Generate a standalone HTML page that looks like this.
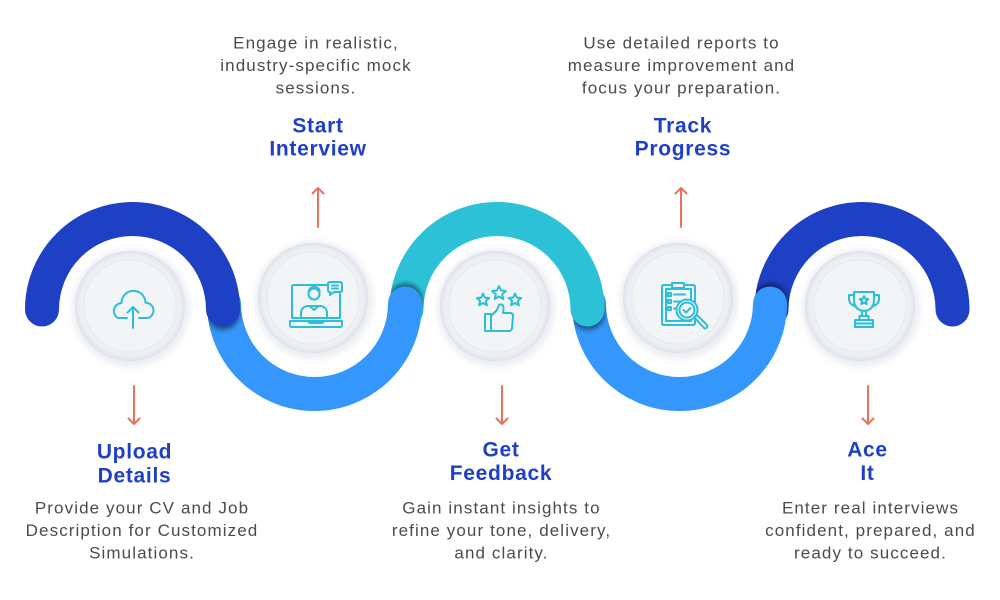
<!DOCTYPE html>
<html>
<head>
<meta charset="utf-8">
<style>
  html, body { margin: 0; padding: 0; background: #ffffff; }
  body { width: 1000px; height: 600px; overflow: hidden; }
  svg { display: block; }
  .b { font-family: "Liberation Sans", sans-serif; font-size: 17px; fill: #4b4b4b; letter-spacing: 1.1px; }
  .t { font-family: "Liberation Sans", sans-serif; font-size: 21px; font-weight: bold; fill: #1f3fc6; letter-spacing: 0.7px; }
  .ic { fill: none; stroke: #2bbfd7; stroke-width: 2; stroke-linejoin: round; stroke-linecap: round; }
  .ar { fill: none; stroke: #e8735c; stroke-width: 2; stroke-linecap: round; stroke-linejoin: round; }
</style>
</head>
<body>
<svg width="1000" height="600" viewBox="0 0 1000 600" xmlns="http://www.w3.org/2000/svg">
  <defs>
    <filter id="blur" x="-50%" y="-50%" width="200%" height="200%">
      <feGaussianBlur stdDeviation="2.5"/>
    </filter>
    <filter id="halo" x="-50%" y="-50%" width="200%" height="200%">
      <feGaussianBlur stdDeviation="3"/>
    </filter>
    <radialGradient id="ng" cx="50%" cy="50%" r="50%">
      <stop offset="0%" stop-color="#f3f4f6"/>
      <stop offset="82.5%" stop-color="#f3f4f6"/>
      <stop offset="84%" stop-color="#e9ecf1"/>
      <stop offset="88%" stop-color="#eff1f5"/>
      <stop offset="95%" stop-color="#e7eaf0"/>
      <stop offset="100%" stop-color="#dce0e8"/>
    </radialGradient>
    <mask id="mD2"><path d="M 771.5 309.5 A 90.5 90.5 0 0 1 952.5 309.5" stroke="#fff" stroke-width="34" fill="none" stroke-linecap="round"/></mask>
    <mask id="mL2"><path d="M 589 303.5 A 90.5 90.5 0 0 0 770 303.5" stroke="#fff" stroke-width="34" fill="none" stroke-linecap="round"/></mask>
    <mask id="mC"><path d="M 406.5 309.5 A 90.5 90.5 0 0 1 587.5 309.5" stroke="#fff" stroke-width="34" fill="none" stroke-linecap="round"/></mask>
    <mask id="mL1"><path d="M 224 303.5 A 90.5 90.5 0 0 0 405 303.5" stroke="#fff" stroke-width="34" fill="none" stroke-linecap="round"/></mask>
  </defs>

  <!-- Wave arcs (draw order: bottom-most first) -->
  <path d="M 771.5 309.5 A 90.5 90.5 0 0 1 952.5 309.5" stroke="#1e40c4" stroke-width="34" fill="none" stroke-linecap="round"/>
  <g mask="url(#mD2)"><circle cx="770" cy="300" r="17" fill="#000" opacity="0.45" filter="url(#blur)"/></g>

  <path d="M 589 303.5 A 90.5 90.5 0 0 0 770 303.5" stroke="#3597fb" stroke-width="34" fill="none" stroke-linecap="round"/>
  <g mask="url(#mL2)"><circle cx="588" cy="313" r="17" fill="#000" opacity="0.45" filter="url(#blur)"/></g>

  <path d="M 406.5 309.5 A 90.5 90.5 0 0 1 587.5 309.5" stroke="#2cc1d7" stroke-width="34" fill="none" stroke-linecap="round"/>
  <g mask="url(#mC)"><circle cx="405.5" cy="300" r="17" fill="#000" opacity="0.45" filter="url(#blur)"/></g>

  <path d="M 224 303.5 A 90.5 90.5 0 0 0 405 303.5" stroke="#3597fb" stroke-width="34" fill="none" stroke-linecap="round"/>
  <g mask="url(#mL1)"><circle cx="223" cy="313" r="17" fill="#000" opacity="0.45" filter="url(#blur)"/></g>

  <path d="M 42 309.5 A 90.5 90.5 0 0 1 223 309.5" stroke="#1e40c4" stroke-width="34" fill="none" stroke-linecap="round"/>

  <!-- Nodes -->
  <g>
    <circle cx="131" cy="308" r="59" fill="#eceef3" filter="url(#halo)"/>
    <circle cx="130" cy="306" r="55" fill="url(#ng)"/>
    <circle cx="130" cy="306" r="46" fill="none" stroke="#e6e9ee" stroke-width="0.8"/>

    <circle cx="314" cy="300" r="59" fill="#eceef3" filter="url(#halo)"/>
    <circle cx="313" cy="298" r="55" fill="url(#ng)"/>
    <circle cx="313" cy="298" r="46" fill="none" stroke="#e6e9ee" stroke-width="0.8"/>

    <circle cx="496" cy="308" r="59" fill="#eceef3" filter="url(#halo)"/>
    <circle cx="495" cy="306" r="55" fill="url(#ng)"/>
    <circle cx="495" cy="306" r="46" fill="none" stroke="#e6e9ee" stroke-width="0.8"/>

    <circle cx="679" cy="300" r="59" fill="#eceef3" filter="url(#halo)"/>
    <circle cx="678" cy="298" r="55" fill="url(#ng)"/>
    <circle cx="678" cy="298" r="46" fill="none" stroke="#e6e9ee" stroke-width="0.8"/>

    <circle cx="861" cy="308" r="59" fill="#eceef3" filter="url(#halo)"/>
    <circle cx="860" cy="306" r="55" fill="url(#ng)"/>
    <circle cx="860" cy="306" r="46" fill="none" stroke="#e6e9ee" stroke-width="0.8"/>
  </g>

  <!-- Icon 1: cloud upload -->
  <g class="ic" stroke-width="2.3">
    <path d="M 127 318 H 118 A 8 8 0 0 1 121.5 303 A 12 12 0 0 1 145.5 302.75 A 7.8 7.8 0 0 1 148 318 H 139"/>
    <path d="M 133 328 V 307"/>
    <path d="M 127.5 312.5 L 133 307 L 138.5 312.5"/>
  </g>

  <!-- Icon 2: laptop with person -->
  <g class="ic" stroke-width="1.7">
    <path d="M 328 285 H 294 Q 292 285 292 287 V 318 H 340 V 294"/>
    <path d="M 290 321 H 342 V 325 Q 342 327 340 327 H 292 Q 290 327 290 325 Z"/>
    <path d="M 308 321 Q 309 323 311 323 H 321 Q 323 323 324 321"/>
    <circle cx="314" cy="294" r="5.5"/>
    <path d="M 308.5 292 Q 310 286 315 287 Q 320 288 319.5 292"/>
    <path d="M 301 318 V 313 A 7 7 0 0 1 308 306 H 320 A 7 7 0 0 1 327 313 V 318"/>
    <path d="M 309.5 306 L 314 310 L 318.5 306"/>
    <path d="M 330 282 H 340 Q 342 282 342 284 V 290 Q 342 292 340 292 H 334 L 330 295 V 292 Q 328 292 328 290 V 284 Q 328 282 330 282 Z"/>
    <path d="M 332 285.5 H 338 M 332 288.5 H 338"/>
  </g>

  <!-- Icon 3: stars + thumbs up -->
  <g class="ic" stroke-width="1.7">
    <path d="M 483 293.5 L 484.8 297.6 L 489.2 298 L 485.9 300.9 L 486.9 305.3 L 483 303 L 479.1 305.3 L 480.1 300.9 L 476.8 298 L 481.2 297.6 Z"/>
    <path d="M 499 286 L 501 290.5 L 505.9 291 L 502.2 294.2 L 503.3 299 L 499 296.5 L 494.7 299 L 495.8 294.2 L 492.1 291 L 497 290.5 Z"/>
    <path d="M 515 293.5 L 516.8 297.6 L 521.2 298 L 517.9 300.9 L 518.9 305.3 L 515 303 L 511.1 305.3 L 512.1 300.9 L 508.8 298 L 513.2 297.6 Z"/>
    <path d="M 485 314 H 491 V 331 H 485 Z"/>
    <path d="M 491 316 L 497 310 L 499 305 Q 501 303.5 503 305.5 Q 504 308 503 313 H 510 Q 513 313 513 316 L 512 328.5 Q 511.5 331 509 331 H 491"/>
  </g>

  <!-- Icon 4: clipboard + magnifier -->
  <g class="ic" stroke-width="1.7">
    <path d="M 664 285 H 693 Q 695 285 695 287 V 323 Q 695 325 693 325 H 664 Q 662 325 662 323 V 287 Q 662 285 664 285 Z"/>
    <path d="M 666 289 H 691 V 321 H 666 Z"/>
    <path d="M 672 283 H 684 V 288 H 672 Z" fill="#f3f4f6"/>
    <path d="M 668 293 H 671 V 296 H 668 Z M 674 294.5 H 685"/>
    <path d="M 668 300 H 671 V 303 H 668 Z M 674 301.5 H 680"/>
    <path d="M 668 307 H 671 V 310 H 668 Z M 674 308.5 H 677"/>
    <circle cx="687" cy="310" r="10.5" fill="#f3f4f6"/>
    <circle cx="687" cy="310" r="7.5"/>
    <path d="M 683.5 310 L 686 312.5 L 690.5 308"/>
    <path d="M 694.5 317.5 L 697 315 L 707 325 Q 708 327.5 705.5 328.5 Q 704.5 328.5 704 328 L 694.5 317.5 Z"/>
  </g>

  <!-- Icon 5: trophy -->
  <g class="ic" stroke-width="1.7">
    <path d="M 854 292 H 874 V 300 Q 874 310 864 311 Q 854 310 854 300 Z"/>
    <path d="M 854 295 H 849 V 298.5 Q 849 304.5 856 306.5"/>
    <path d="M 874 295 H 879 V 298.5 Q 879 304.5 872 306.5"/>
    <path d="M 864 296 L 865.3 298.8 L 868.3 299.1 L 866 301.1 L 866.7 304.1 L 864 302.5 L 861.3 304.1 L 862 301.1 L 859.7 299.1 L 862.7 298.8 Z"/>
    <path d="M 862 311 V 316 M 866 311 V 316"/>
    <path d="M 859.5 316 H 868.5 V 320 H 859.5 Z"/>
    <path d="M 855 320 H 873 V 327 H 855 Z"/>
    <path d="M 855 323.5 H 873"/>
  </g>

  <!-- Arrows -->
  <path class="ar" d="M 134 386 V 424 M 128.5 418.5 L 134 424 L 139.5 418.5"/>
  <path class="ar" d="M 502 386 V 424 M 496.5 418.5 L 502 424 L 507.5 418.5"/>
  <path class="ar" d="M 868 386 V 424 M 862.5 418.5 L 868 424 L 873.5 418.5"/>
  <path class="ar" d="M 318 227 V 188 M 312.5 193.5 L 318 188 L 323.5 193.5"/>
  <path class="ar" d="M 681 227 V 188 M 675.5 193.5 L 681 188 L 686.5 193.5"/>

  <!-- Top text: Start Interview -->
  <text class="b" x="316" y="48.3" text-anchor="middle">Engage in realistic,</text>
  <text class="b" x="316" y="70.8" text-anchor="middle">industry-specific mock</text>
  <text class="b" x="316" y="93.3" text-anchor="middle">sessions.</text>
  <text class="t" x="318" y="132.3" text-anchor="middle">Start</text>
  <text class="t" x="318" y="155.7" text-anchor="middle">Interview</text>

  <!-- Top text: Track Progress -->
  <text class="b" x="681.5" y="48.3" text-anchor="middle">Use detailed reports to</text>
  <text class="b" x="681.5" y="70.8" text-anchor="middle">measure improvement and</text>
  <text class="b" x="681.5" y="93.3" text-anchor="middle">focus your preparation.</text>
  <text class="t" x="683" y="132.3" text-anchor="middle">Track</text>
  <text class="t" x="683" y="155.7" text-anchor="middle">Progress</text>

  <!-- Bottom text: Upload Details -->
  <text class="t" x="134.5" y="458.3" text-anchor="middle">Upload</text>
  <text class="t" x="134.5" y="482.5" text-anchor="middle">Details</text>
  <text class="b" x="142" y="513.5" text-anchor="middle">Provide your CV and Job</text>
  <text class="b" x="142" y="536" text-anchor="middle">Description for Customized</text>
  <text class="b" x="142" y="558.5" text-anchor="middle">Simulations.</text>

  <!-- Bottom text: Get Feedback -->
  <text class="t" x="501" y="456.7" text-anchor="middle">Get</text>
  <text class="t" x="501" y="480.2" text-anchor="middle">Feedback</text>
  <text class="b" x="501.5" y="513.5" text-anchor="middle">Gain instant insights to</text>
  <text class="b" x="501.5" y="536" text-anchor="middle">refine your tone, delivery,</text>
  <text class="b" x="501.5" y="558.5" text-anchor="middle">and clarity.</text>

  <!-- Bottom text: Ace It -->
  <text class="t" x="867.5" y="456.7" text-anchor="middle">Ace</text>
  <text class="t" x="867.5" y="480.2" text-anchor="middle">It</text>
  <text class="b" x="870.5" y="513.5" text-anchor="middle">Enter real interviews</text>
  <text class="b" x="870.5" y="536" text-anchor="middle">confident, prepared, and</text>
  <text class="b" x="870.5" y="558.5" text-anchor="middle">ready to succeed.</text>
</svg>
</body>
</html>
